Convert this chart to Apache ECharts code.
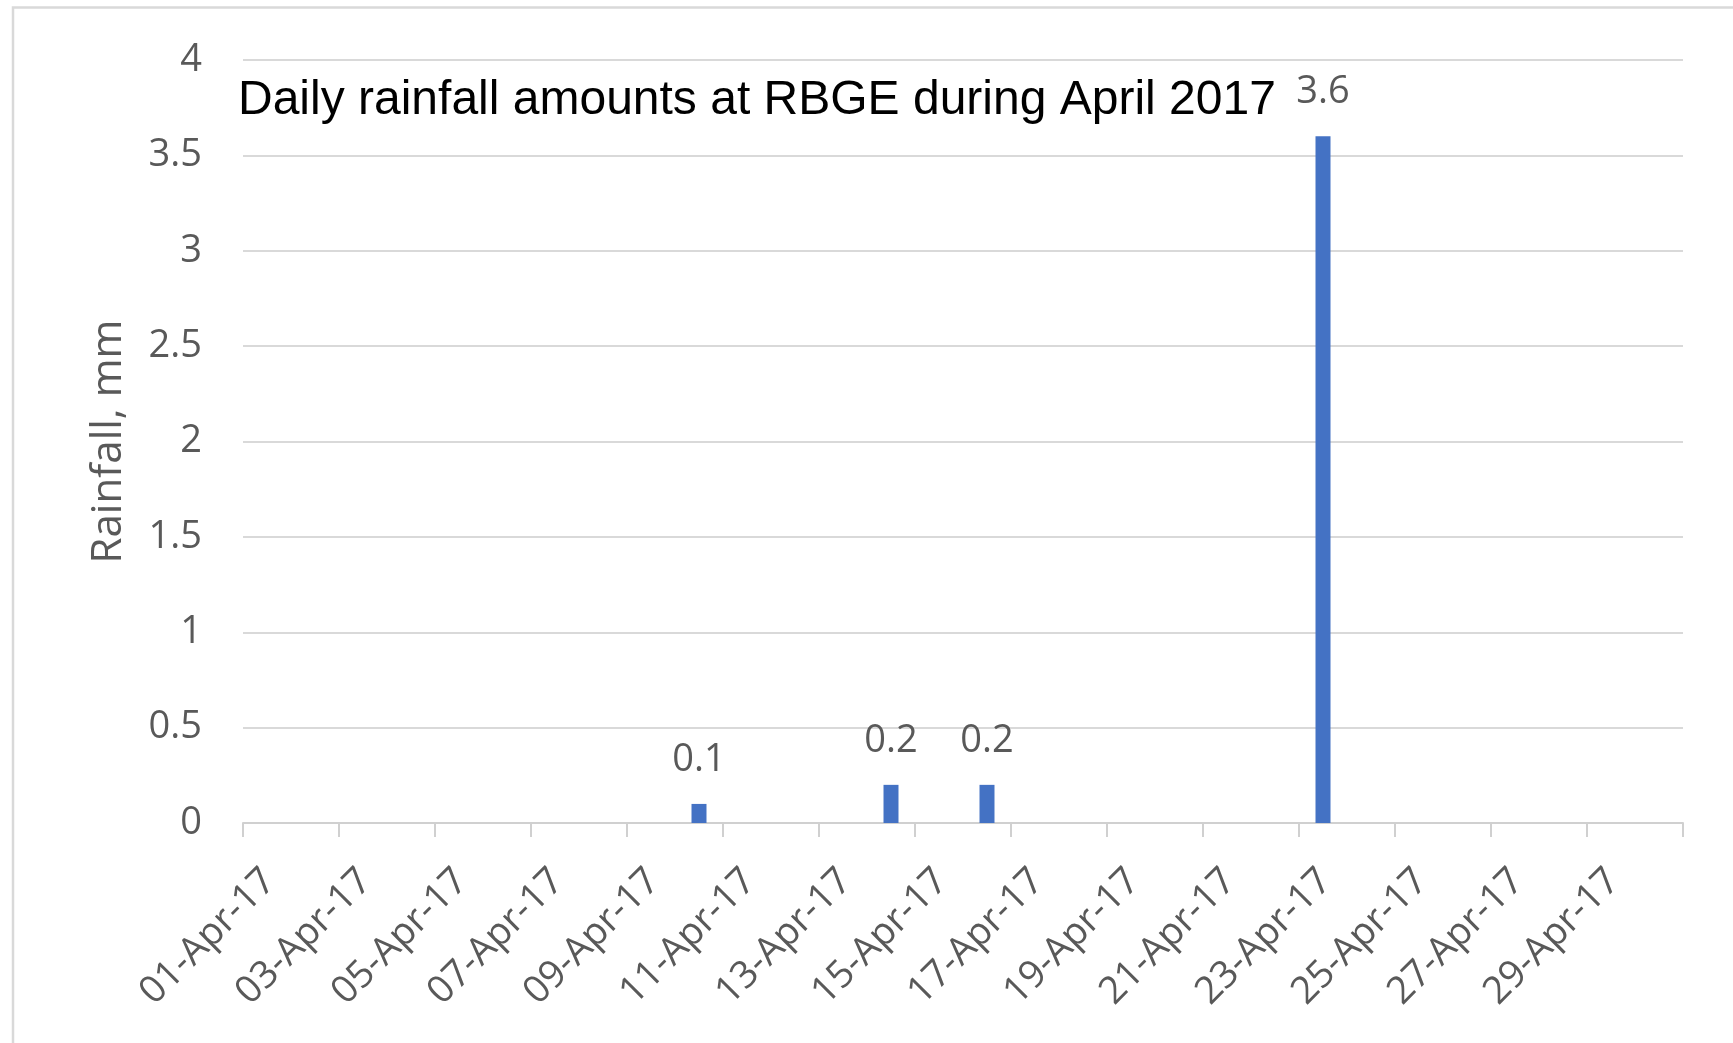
<!DOCTYPE html>
<html>
<head>
<meta charset="utf-8">
<title>Daily rainfall amounts at RBGE during April 2017</title>
<script src="https://cdn.jsdelivr.net/npm/echarts@6/dist/echarts.min.js"></script>
<style>
  html, body { margin: 0; padding: 0; background: #ffffff; }
  #chart { width: 1733px; height: 1043px; }
</style>
</head>
<body>
<div id="chart"></div>
<script>
// Days of April 2017, one category per day
const days = [
  '01-Apr-17', '02-Apr-17', '03-Apr-17', '04-Apr-17', '05-Apr-17', '06-Apr-17',
  '07-Apr-17', '08-Apr-17', '09-Apr-17', '10-Apr-17', '11-Apr-17', '12-Apr-17',
  '13-Apr-17', '14-Apr-17', '15-Apr-17', '16-Apr-17', '17-Apr-17', '18-Apr-17',
  '19-Apr-17', '20-Apr-17', '21-Apr-17', '22-Apr-17', '23-Apr-17', '24-Apr-17',
  '25-Apr-17', '26-Apr-17', '27-Apr-17', '28-Apr-17', '29-Apr-17', '30-Apr-17'
];

// Daily rainfall, mm
const rainfall = [
  0, 0, 0, 0, 0, 0, 0, 0, 0, 0.1,
  0, 0, 0, 0.2, 0, 0.2, 0, 0, 0, 0,
  0, 0, 3.6, 0, 0, 0, 0, 0, 0, 0
];

// Date labels, one per two-day step of the axis
const tickLabels = [
  '01-Apr-17', '03-Apr-17', '05-Apr-17', '07-Apr-17', '09-Apr-17',
  '11-Apr-17', '13-Apr-17', '15-Apr-17', '17-Apr-17', '19-Apr-17',
  '21-Apr-17', '23-Apr-17', '25-Apr-17', '27-Apr-17', '29-Apr-17'
];

const titleText = 'Daily rainfall amounts at RBGE during April 2017';
const yName = 'Rainfall, mm';

const textGrey = '#595959';
const lineGrey = '#D9D9D9';
const axisGrey = '#D0D0D0';
const barBlue = '#4472C4';
const uiFont = '"Open Sans", "Noto Sans", sans-serif';

const chart = echarts.init(document.getElementById('chart'), null, { renderer: 'canvas' });

chart.setOption({
  animation: false,
  backgroundColor: '#ffffff',
  title: {
    text: titleText,
    left: 233,
    top: 72,
    textStyle: {
      fontFamily: '"Liberation Sans", Arial, sans-serif',
      fontSize: 48,
      fontWeight: 'normal',
      color: '#000000'
    }
  },
  graphic: [{
    type: 'rect',
    silent: true,
    z: -10,
    shape: { x: 13, y: 7.5, width: 1800, height: 1100 },
    style: { fill: 'none', stroke: lineGrey, lineWidth: 2.5 }
  }],
  grid: {
    left: 243,
    right: 50,
    top: 60,
    bottom: 220,
    containLabel: false
  },
  xAxis: [
    {
      type: 'category',
      data: days,
      position: 'bottom',
      boundaryGap: true,
      axisLine: { show: true, lineStyle: { color: axisGrey, width: 2 } },
      axisTick: { show: false },
      axisLabel: { show: false },
      splitLine: { show: false }
    },
    {
      type: 'category',
      data: tickLabels,
      position: 'bottom',
      offset: 0,
      boundaryGap: true,
      axisLine: { show: false },
      axisTick: {
        show: true,
        interval: 0,
        length: 14,
        lineStyle: { color: axisGrey, width: 2 }
      },
      axisLabel: {
        show: true,
        interval: 0,
        rotate: 45,
        margin: 31,
        padding: [0, 30, 0, 0],
        color: textGrey,
        fontFamily: uiFont,
        fontSize: 38
      },
      splitLine: { show: false }
    }
  ],
  yAxis: {
    type: 'value',
    min: 0,
    max: 4,
    interval: 0.5,
    name: yName,
    nameLocation: 'middle',
    nameGap: 113,
    nameTextStyle: {
      color: textGrey,
      fontFamily: uiFont,
      fontSize: 42
    },
    axisLine: { show: false },
    axisTick: { show: false },
    axisLabel: {
      margin: 41,
      color: textGrey,
      fontFamily: uiFont,
      fontSize: 38
    },
    splitLine: { show: true, lineStyle: { color: lineGrey, width: 2 } }
  },
  series: [{
    type: 'bar',
    xAxisIndex: 0,
    yAxisIndex: 0,
    data: rainfall,
    barWidth: 15,
    itemStyle: { color: barBlue },
    label: {
      show: true,
      position: 'top',
      distance: 25,
      color: textGrey,
      fontFamily: uiFont,
      fontSize: 38,
      formatter: (p) => (p.value > 0 ? String(p.value) : '')
    }
  }]
});
</script>
</body>
</html>
